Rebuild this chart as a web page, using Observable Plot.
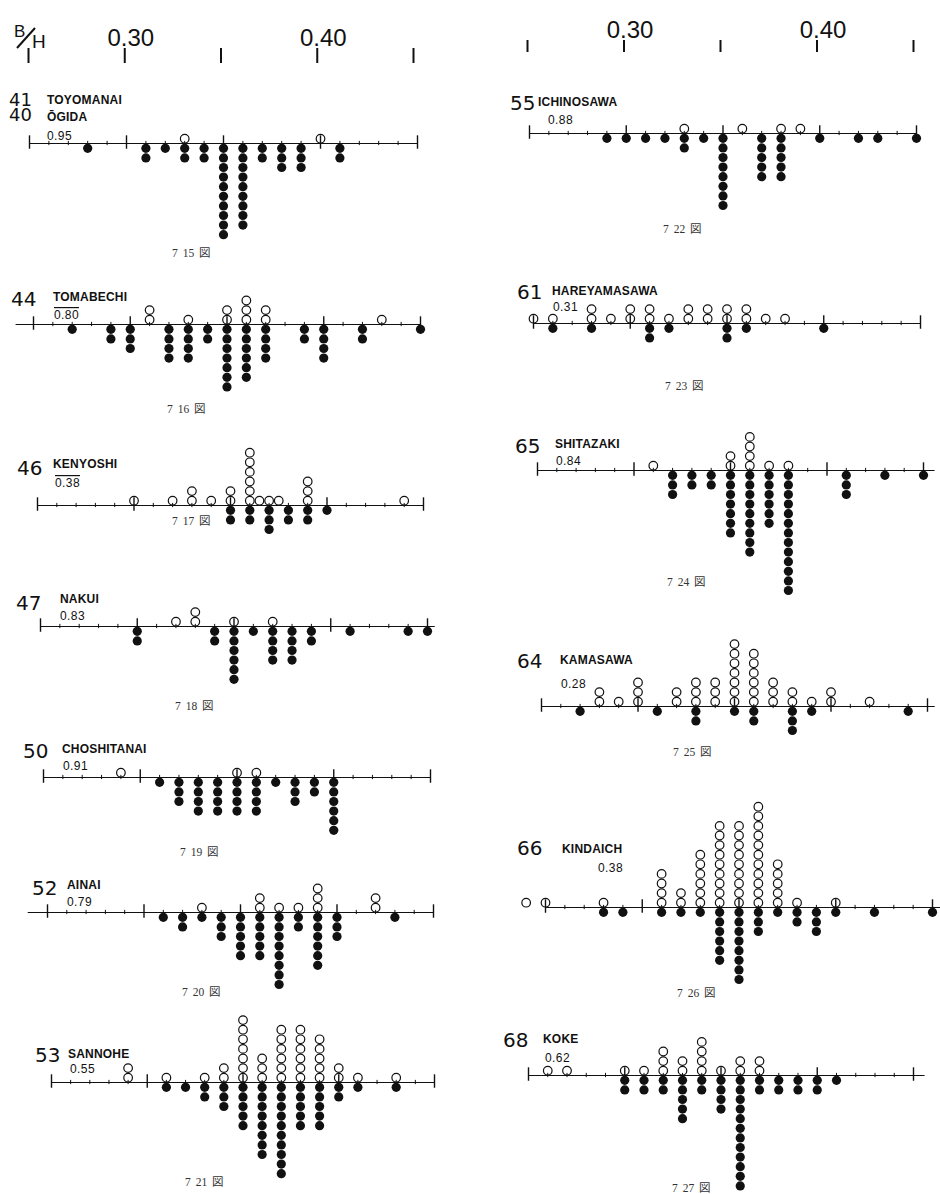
<!DOCTYPE html>
<html><head><meta charset="utf-8">
<script src="https://cdn.jsdelivr.net/npm/d3@7"></script>
<script src="https://cdn.jsdelivr.net/npm/@observablehq/plot@0.6"></script>
<style>
html,body{margin:0;padding:0;background:#fff;}
#fig{position:relative;width:940px;height:1194px;overflow:hidden;background:#fff;}
.numstack{position:absolute;font-family:"DejaVu Sans",sans-serif;font-size:18px;line-height:15px;color:#111;white-space:pre;}
</style></head><body><div id="fig"></div>
<script>
// ---------- DATA (B/H bins, open-circle counts above axis, filled-circle counts below) ----------
const bins41 = [0.28,0.31,0.32,0.33,0.34,0.35,0.36,0.37,0.38,0.39,0.40,0.41];
const open41 = [0,0,0,1,0,0,0,0,0,0,1,0];
const fill41 = [1,2,1,2,2,10,9,2,3,3,0,2];

const bins44 = [0.27,0.29,0.30,0.31,0.32,0.33,0.34,0.35,0.36,0.37,0.39,0.40,0.42,0.43,0.45];
const open44 = [0,0,0,2,0,1,0,2,3,2,0,0,0,1,0];
const fill44 = [1,2,3,0,4,4,2,7,6,4,2,4,2,0,1];

const bins46 = [0.30,0.32,0.33,0.34,0.35,0.36,0.365,0.37,0.375,0.38,0.39,0.40,0.44];
const open46 = [1,1,2,1,2,6,1,1,1,0,3,0,1];
const fill46 = [0,0,0,0,2,2,0,3,0,2,2,1,0];

const bins47 = [0.30,0.32,0.33,0.34,0.35,0.36,0.37,0.38,0.39,0.41,0.44,0.45];
const open47 = [0,1,2,0,1,0,1,0,0,0,0,0];
const fill47 = [2,0,0,2,6,1,4,4,2,1,1,1];

const bins50 = [0.29,0.31,0.32,0.33,0.34,0.35,0.36,0.37,0.38,0.39,0.40];
const open50 = [1,0,0,0,0,1,1,0,0,0,0];
const fill50 = [0,1,3,4,4,4,4,1,3,2,6];

const bins52 = [0.31,0.32,0.33,0.34,0.35,0.36,0.37,0.38,0.39,0.40,0.42,0.43];
const open52 = [0,0,1,0,0,2,1,1,3,0,2,0];
const fill52 = [1,2,1,3,5,5,8,2,6,3,0,1];

const bins53 = [0.29,0.31,0.32,0.33,0.34,0.35,0.36,0.37,0.38,0.39,0.40,0.41,0.43];
const open53 = [2,1,0,1,2,7,3,6,6,5,2,1,1];
const fill53 = [0,1,1,2,3,5,8,10,5,5,2,1,1];

const bins55 = [0.29,0.30,0.31,0.32,0.33,0.34,0.35,0.36,0.37,0.38,0.39,0.40,0.42,0.43,0.45];
const open55 = [0,0,0,0,1,0,0,1,0,1,1,0,0,0,0];
const fill55 = [1,1,1,1,2,1,8,0,5,5,0,1,1,1,1];

const bins61 = [0.25,0.26,0.28,0.29,0.30,0.31,0.32,0.33,0.34,0.35,0.36,0.37,0.38,0.40];
const open61 = [1,1,2,1,2,2,1,2,2,2,2,1,1,0];
const fill61 = [0,1,1,0,0,2,1,0,0,2,1,0,0,1];

const bins65 = [0.31,0.32,0.33,0.34,0.35,0.36,0.37,0.38,0.41,0.43,0.45];
const open65 = [1,0,0,0,2,4,1,1,0,0,0];
const fill65 = [0,3,2,2,7,9,6,13,3,1,1];

const bins64 = [0.27,0.28,0.29,0.30,0.31,0.32,0.33,0.34,0.35,0.36,0.37,0.38,0.39,0.40,0.42,0.44];
const open64 = [0,2,1,3,0,2,3,3,7,6,3,2,1,2,1,0];
const fill64 = [1,0,0,0,1,0,2,0,1,2,0,3,1,0,0,1];

const bins66 = [0.24,0.25,0.28,0.29,0.31,0.32,0.33,0.34,0.35,0.36,0.37,0.38,0.39,0.40,0.42,0.45];
const open66 = [1,1,1,0,4,2,6,9,9,11,5,1,0,1,0,0];
const fill66 = [0,0,1,1,1,1,1,6,8,3,1,2,3,1,1,1];

const bins68 = [0.26,0.27,0.30,0.31,0.32,0.33,0.34,0.35,0.36,0.37,0.38,0.39,0.40,0.41];
const open68 = [1,1,1,1,3,2,4,1,2,2,0,0,0,0];
const fill68 = [0,0,2,2,2,5,2,4,12,2,2,2,2,1];

const panelNumbers = [["41","40"],["44"],["46"],["47"],["50"],["52"],["53"],["55"],["61"],["65"],["64"],["66"],["68"]];
const panelNames = [["TOYOMANAI","ŌGIDA"],["TOMABECHI"],["KENYOSHI"],["NAKUI"],["CHOSHITANAI"],["AINAI"],["SANNOHE"],
                    ["ICHINOSAWA"],["HAREYAMASAWA"],["SHITAZAKI"],["KAMASAWA"],["KINDAICH"],["KOKE"]];
const panelRatios = ["0.95","0.80","0.38","0.83","0.91","0.79","0.55","0.88","0.31","0.84","0.28","0.38","0.62"];
const panelCaptions = ["7 15 図","7 16 図","7 17 図","7 18 図","7 19 図","7 20 図","7 21 図",
                       "7 22 図","7 23 図","7 24 図","7 25 図","7 26 図","7 27 図"];
const panelBins = [bins41,bins44,bins46,bins47,bins50,bins52,bins53,bins55,bins61,bins65,bins64,bins66,bins68];
const panelOpen = [open41,open44,open46,open47,open50,open52,open53,open55,open61,open65,open64,open66,open68];
const panelFill = [fill41,fill44,fill46,fill47,fill50,fill52,fill53,fill55,fill61,fill65,fill64,fill66,fill68];
// axis line extent in B/H units
const axisFrom = [0.25,0.241,0.25,0.25,0.25,0.24,0.25,0.25,0.25,0.25,0.25,0.25,0.25];
const axisTo   = [0.45,0.45,0.45,0.454,0.45,0.45,0.45,0.45,0.45,0.456,0.454,0.456,0.456];

const headerTicks = [0.25,0.30,0.35,0.40,0.45];
const headerLabels = [0.30,0.40];
const majorTicks = [0.25,0.30,0.35,0.40,0.45];
const minorTicks = d3.range(0,21).map(i => +(0.25 + i*0.01).toFixed(2)).filter(v => !majorTicks.includes(v));

// ---------- LAYOUT (pixel placement of each small panel) ----------
const layout = [
 {c:0,x0:29, x1:417,y:143, num:[[9,106],[9,121]], name:[[47,104],[47,121]], ratio:[47,140], cap:[172,257]},
 {c:0,x0:33, x1:420,y:324, num:[[11,306]], name:[[53,301]], ratio:[54,319], cap:[167,413], over:true},
 {c:0,x0:37, x1:423,y:505, num:[[17,475]], name:[[53,468]], ratio:[55,487], cap:[172,525], over:true},
 {c:0,x0:40, x1:427,y:626, num:[[16,610]], name:[[60,603]], ratio:[60,620], cap:[175,710]},
 {c:0,x0:43, x1:430,y:777, num:[[23,758]], name:[[62,753]], ratio:[63,770], cap:[180,856]},
 {c:0,x0:47, x1:433,y:912, num:[[32,895]], name:[[67,889]], ratio:[67,906], cap:[182,996]},
 {c:0,x0:51, x1:434,y:1082,num:[[35,1062]],name:[[68,1058]],ratio:[70,1073],cap:[185,1186]},
 {c:1,x0:529,x1:916,y:133, num:[[510,110]],name:[[538,106]],ratio:[548,124],cap:[663,233]},
 {c:1,x0:533,x1:920,y:323, num:[[517,299]],name:[[552,295]],ratio:[553,311],cap:[665,390]},
 {c:1,x0:537,x1:923,y:470, num:[[515,453]],name:[[555,448]],ratio:[556,465],cap:[667,586]},
 {c:1,x0:541,x1:927,y:706, num:[[517,668]],name:[[560,664]],ratio:[561,688],cap:[673,756]},
 {c:1,x0:545,x1:932,y:907, num:[[517,855]],name:[[562,853]],ratio:[598,872],cap:[677,997]},
 {c:1,x0:528,x1:913,y:1075,num:[[503,1047]],name:[[543,1043]],ratio:[545,1062],cap:[672,1192]}
];

const fig = document.getElementById("fig");
const INK = "#111";
const U = 9.6;       // px per stacked circle
const H = 300, A = 140; // panel svg height, axis position inside it
const COLW = 470;

function place(el, left, top) {
  el.style.position = "absolute";
  el.style.left = left + "px";
  el.style.top = top + "px";
  el.style.background = "transparent";
  el.style.overflow = "visible";
  el.style.maxWidth = "none";
  fig.appendChild(el);
}

// ---------- panels ----------
layout.forEach((L, p) => {
  const colLeft = L.c * COLW;
  const openPts = [], fillPts = [];
  panelBins[p].forEach((b, i) => {
    for (let k = 1; k <= panelOpen[p][i]; k++) openPts.push({bh: b, k: k - 0.5});
    for (let k = 1; k <= panelFill[p][i]; k++) fillPts.push({bh: b, k: -(k - 0.5)});
  });
  const chart = Plot.plot({
    width: COLW, height: H,
    x: {domain: [0.25, 0.45], range: [L.x0 - colLeft, L.x1 - colLeft], axis: null},
    y: {domain: [-(H - A) / U, A / U], range: [H, 0], axis: null},
    marks: [
      Plot.ruleY([0], {y: d => d, x1: axisFrom[p], x2: axisTo[p], stroke: INK, strokeWidth: 1.2}),
      Plot.ruleX(minorTicks, {x: d => d, y1: -0.22, y2: 0.22, stroke: INK, strokeWidth: 1}),
      Plot.ruleX(majorTicks, {x: d => d, y1: -0.6, y2: 0.8, stroke: INK, strokeWidth: 1.4}),
      Plot.dot(openPts, {x: "bh", y: "k", r: 4.3, stroke: INK, strokeWidth: 1.2, fill: "none"}),
      Plot.dot(fillPts, {x: "bh", y: "k", r: 4.6, fill: INK, stroke: "none"})
    ]
  });
  place(chart, colLeft, L.y - A);
});

// ---------- top B/H scales ----------
function header(colLeft, r0, r1, mTop, mBot, h) {
  const chart = Plot.plot({
    width: COLW, height: h, marginTop: mTop, marginBottom: mBot, marginLeft: 0, marginRight: 0,
    x: {domain: [0.25, 0.45], range: [r0 - colLeft, r1 - colLeft], axis: null},
    marks: [
      Plot.tickX(headerTicks, {x: d => d, stroke: INK, strokeWidth: 2}),
      Plot.text(headerLabels, {x: d => d, text: d => d.toFixed(2), frameAnchor: "top", lineAnchor: "bottom",
        dy: -3, dx: 6, fontSize: 24, fontFamily: "Liberation Sans, Arial, sans-serif", fill: INK})
    ]
  });
  place(chart, colLeft, 0);
}
header(0, 28, 413, 48, 7, 70);
header(COLW, 527, 913, 40, 18, 70);

// ---------- text overlay ----------
const ov = d3.create("svg").attr("width", 940).attr("height", 1194)
  .style("position", "absolute").style("left", "0px").style("top", "0px").style("pointer-events", "none");
// B/H symbol
ov.append("text").attr("x", 14).attr("y", 37).text("B")
  .attr("font-family", "Liberation Sans, Arial, sans-serif").attr("font-size", 17).attr("fill", INK);
ov.append("line").attr("x1", 17).attr("y1", 48).attr("x2", 35).attr("y2", 28).attr("stroke", INK).attr("stroke-width", 2);
ov.append("text").attr("x", 32).attr("y", 48).text("H")
  .attr("font-family", "Liberation Sans, Arial, sans-serif").attr("font-size", 19).attr("fill", INK);

layout.forEach((L, p) => {
  if (L.num.length === 1) {
    ov.append("text").attr("x", L.num[0][0]).attr("y", L.num[0][1]).text(panelNumbers[p][0])
      .attr("font-family", "DejaVu Sans, sans-serif").attr("font-size", 20).attr("fill", INK);
  }
  const nm = ov.append("text").attr("font-family", "Liberation Sans, Arial, sans-serif").attr("font-weight", "bold")
      .attr("font-size", 12).attr("letter-spacing", 0.2).attr("fill", INK);
  L.name.forEach((pos, j) => {
    nm.append("tspan").attr("x", pos[0]).attr("y", pos[1]).text(panelNames[p][j]);
  });
  const rt = ov.append("text").attr("x", L.ratio[0]).attr("y", L.ratio[1]).text(panelRatios[p])
    .attr("font-family", "Liberation Sans, Arial, sans-serif").attr("font-size", 12)
    .attr("letter-spacing", 0.4).attr("fill", INK);
  if (L.over) rt.style("text-decoration", "overline");
  ov.append("text").attr("x", L.cap[0]).attr("y", L.cap[1]).text(panelCaptions[p])
    .attr("font-family", "Liberation Serif, 'Noto Sans CJK JP', serif").attr("font-size", 11.5)
    .attr("word-spacing", 2).attr("fill", "#333");
});
fig.appendChild(ov.node());

// stacked station numbers (two stations sharing one panel) as one text block
layout.forEach((L, p) => {
  if (L.num.length > 1) {
    const div = document.createElement("div");
    div.className = "numstack";
    div.style.left = L.num[0][0] + "px";
    div.style.top = (L.num[0][1] - 13.7) + "px";
    div.textContent = panelNumbers[p].join("\n");
    fig.appendChild(div);
  }
});
</script></body></html>
